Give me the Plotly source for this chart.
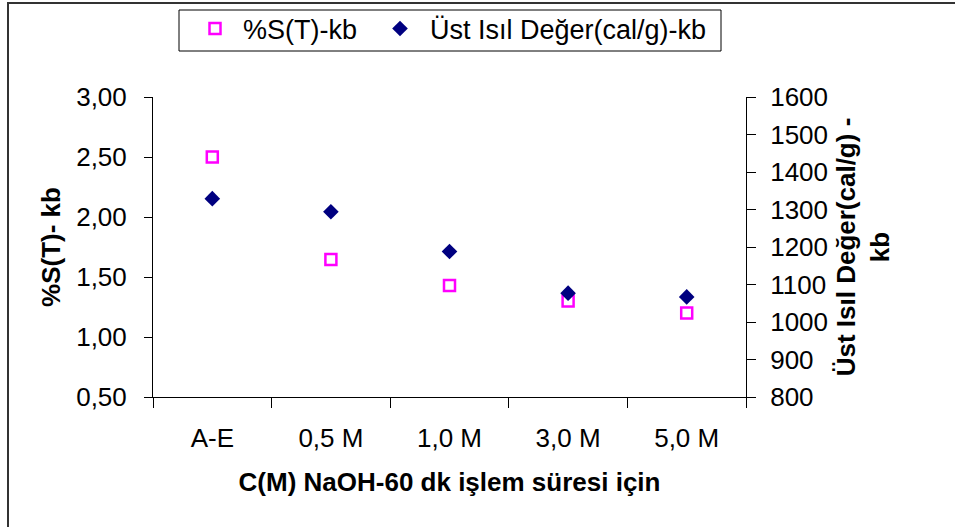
import plotly.graph_objects as go

categories = ["A-E", "0,5 M", "1,0 M", "3,0 M", "5,0 M"]
s_values = [2.50, 1.645, 1.43, 1.30, 1.20]
cal_values = [1329, 1294, 1188, 1077, 1067]
left_ticks = [0.5, 1.0, 1.5, 2.0, 2.5, 3.0]
right_ticks = [800, 900, 1000, 1100, 1200, 1300, 1400, 1500, 1600]

FONT = "Liberation Sans, Arial, sans-serif"
W, H = 955, 527
L, R, T, B = 153, 209, 97, 130
pw, ph = W - L - R, H - T - B

def px_x(p):
    return (p - L) / pw

def px_y(p):
    return (H - B - p) / ph

fig = go.Figure()
fig.add_trace(go.Scatter(
    x=categories, y=s_values, name="%S(T)-kb", mode="markers",
    marker=dict(symbol="square-open", size=11, color="#FF00FF", line=dict(width=2.5, color="#FF00FF")),
    xaxis="x", yaxis="y", legend="legend"))
fig.add_trace(go.Scatter(
    x=categories, y=cal_values, name="Üst Isıl Değer(cal/g)-kb", mode="markers",
    marker=dict(symbol="diamond", size=12, color="#000080"),
    xaxis="x", yaxis="y2", legend="legend2"))

n = len(categories)
boundaries = [i - 0.5 for i in range(n + 1)]

legend_common = dict(
    orientation="h", xanchor="left", yanchor="middle",
    borderwidth=0, bgcolor="rgba(0,0,0,0)",
    font=dict(family=FONT, size=27, color="black"),
)

fig.update_layout(
    width=W, height=H,
    margin=dict(l=L, r=R, t=T, b=B, pad=0, autoexpand=False),
    paper_bgcolor="white", plot_bgcolor="white",
    font=dict(family=FONT, size=26, color="black"),
    separators=",.",
    showlegend=True,
    legend=dict(x=px_x(187), y=px_y(29), itemwidth=46, **legend_common),
    legend2=dict(x=px_x(370), y=px_y(29), itemwidth=50, **legend_common),
    xaxis=dict(
        type="category", range=[-0.5, n - 0.5], showline=True, linecolor="black", linewidth=1,
        ticks="outside", tickson="boundaries", ticklen=10, tickcolor="black",
        showgrid=False, zeroline=False, ticklabelstandoff=18,
        title=dict(text="C(M) NaOH-60 dk işlem süresi için", standoff=20,
                   font=dict(family=FONT, size=26, weight="bold")),
    ),
    xaxis2=dict(
        overlaying="x", anchor="y", range=[-0.5, n - 0.5], tickvals=boundaries,
        ticks="inside", ticklen=7, tickcolor="black", showticklabels=False,
        showgrid=False, zeroline=False, showline=False, side="bottom",
    ),
    yaxis=dict(
        range=[0.5, 3.0], tickvals=left_ticks, tickformat=".2f",
        showline=True, linecolor="black", linewidth=1,
        ticks="outside", ticklen=8, tickcolor="black", ticklabelstandoff=12,
        showgrid=False, zeroline=False,
        title=dict(text="%S(T)- kb", standoff=8, font=dict(family=FONT, size=26, weight="bold")),
    ),
    yaxis3=dict(
        overlaying="y", anchor="x", side="left", range=[0.5, 3.0], tickvals=left_ticks,
        ticks="inside", ticklen=5, tickcolor="black", showticklabels=False,
        showgrid=False, zeroline=False, showline=False,
    ),
    yaxis2=dict(
        overlaying="y", side="right", anchor="x", range=[800, 1600], tickvals=right_ticks,
        showline=True, linecolor="black", linewidth=1,
        ticks="outside", ticklen=9, tickcolor="black", ticklabelstandoff=9,
        showgrid=False, zeroline=False,
        title=dict(text="Üst Isıl Değer(cal/g) -<br>kb", standoff=9,
                   font=dict(family=FONT, size=26, weight="bold")),
    ),
    yaxis4=dict(
        overlaying="y", side="right", anchor="x", range=[800, 1600], tickvals=right_ticks,
        ticks="inside", ticklen=6, tickcolor="black", showticklabels=False,
        showgrid=False, zeroline=False, showline=False,
    ),
    shapes=[
        dict(type="rect", xref="paper", yref="paper",
             x0=px_x(8), x1=px_x(W + 10), y0=px_y(H + 10), y1=px_y(3),
             line=dict(color="#333333", width=2), fillcolor="rgba(0,0,0,0)", layer="above"),
        dict(type="rect", xref="paper", yref="paper",
             x0=px_x(179), x1=px_x(721), y0=px_y(51), y1=px_y(10),
             line=dict(color="black", width=1), fillcolor="rgba(0,0,0,0)", layer="above"),
    ],
)

fig.write_html("out.html")
